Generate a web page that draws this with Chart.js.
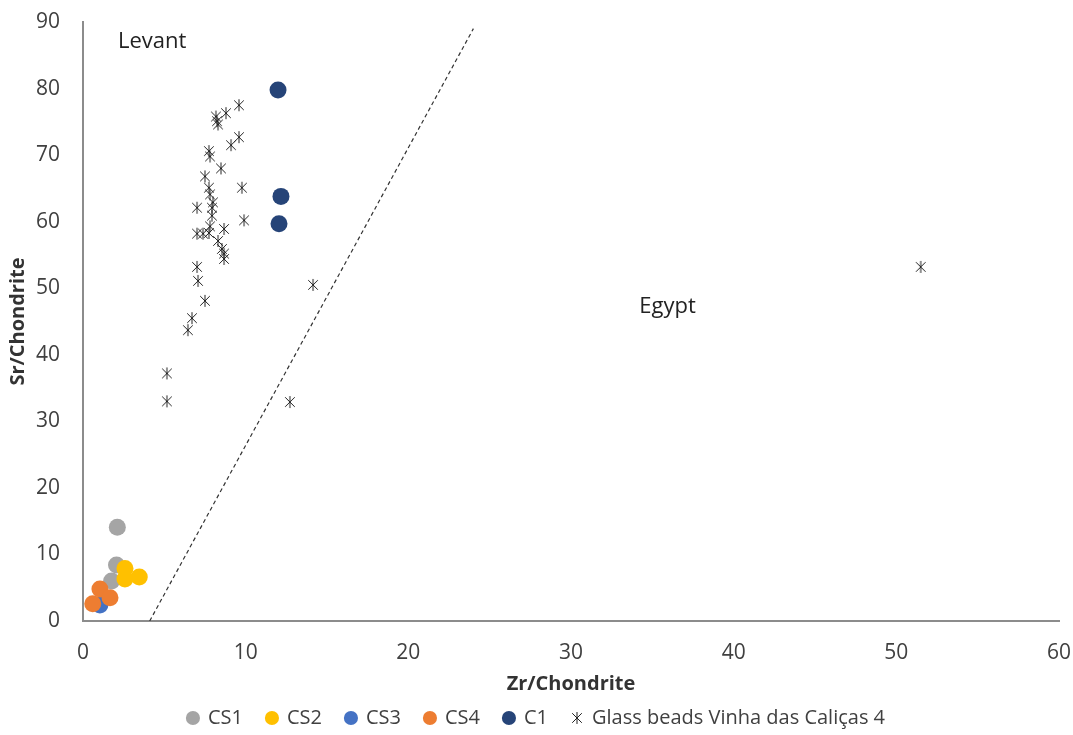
<!DOCTYPE html>
<html>
<head>
<meta charset="utf-8">
<script src="https://cdn.jsdelivr.net/npm/chart.js@4.4.0/dist/chart.umd.min.js"></script>
<style>
  html, body { margin: 0; padding: 0; background: #fff; }
  #wrap { width: 1073px; height: 735px; position: relative; }
</style>
</head>
<body>
<div id="wrap"><canvas id="chart"></canvas></div>
<script>
// --- data (Zr/Chondrite, Sr/Chondrite) ---
const cs1X = [2.11, 2.06, 1.76];
const cs1Y = [14.1, 8.4, 6.0];
const cs2X = [2.58, 2.58, 3.46];
const cs2Y = [7.9, 6.3, 6.6];
const cs3X = [1.04];
const cs3Y = [2.4];
const cs4X = [1.04, 1.66, 0.6];
const cs4Y = [4.8, 3.5, 2.6];
const c1X = [11.99, 12.17, 12.05];
const c1Y = [79.8, 63.8, 59.7];
const beadsX = [9.59, 8.79, 8.17, 8.24, 8.30, 9.59, 9.10, 7.74, 7.81, 8.48, 7.50, 7.74, 9.77, 7.81,
  7.01, 7.93, 7.99, 7.93, 9.90, 7.81, 8.67, 7.01, 7.38, 7.74, 8.30, 8.54, 8.67, 8.67, 7.01, 7.07,
  7.50, 6.70, 6.45, 5.16, 5.16, 14.14, 12.72, 51.5];
const beadsY = [77.5, 76.3, 75.8, 75.1, 74.6, 72.7, 71.5, 70.6, 69.8, 68.0, 66.8, 65.1, 65.1, 64.1,
  62.1, 62.1, 62.9, 60.9, 60.2, 59.3, 58.9, 58.2, 58.2, 58.3, 57.1, 55.9, 55.2, 54.4, 53.2, 51.1,
  48.1, 45.5, 43.7, 37.2, 33.0, 50.5, 32.9, 53.2];
// dividing line Levant / Egypt
const divX = [4.1, 24.0];
const divY = [0, 89];
const regionLabels = ["Levant", "Egypt"];
const regionX = [2.15, 34.2];
const regionY = [87.1, 47.2];

const pts = (xs, ys) => xs.map((x, i) => ({ x: x, y: ys[i] }));
const FONT = '"Open Sans", "Noto Sans", sans-serif';

// Excel-like star marker: X with a vertical bar
function starMarker(size) {
    const c = document.createElement('canvas');
    c.width = size; c.height = size;
    const g = c.getContext('2d');
    g.strokeStyle = '#222'; g.lineWidth = 1;
    const m = size / 2, r = size / 2 - 1;
    g.beginPath();
    g.moveTo(m - r * 0.8, m - r * 0.8); g.lineTo(m + r * 0.8, m + r * 0.8);
    g.moveTo(m + r * 0.8, m - r * 0.8); g.lineTo(m - r * 0.8, m + r * 0.8);
    g.moveTo(m, m - r); g.lineTo(m, m + r);
    g.stroke();
    return c;
}
const star = starMarker(14);

const regionText = {
    id: 'regionText',
    afterDatasetsDraw(chart) {
        const { ctx, scales } = chart;
        ctx.save();
        ctx.font = '22px ' + FONT;
        ctx.fillStyle = '#222';
        ctx.textAlign = 'left'; ctx.textBaseline = 'middle';
        regionLabels.forEach((t, i) => ctx.fillText(t, scales.x.getPixelForValue(regionX[i]), scales.y.getPixelForValue(regionY[i])));
        ctx.restore();
    }
};

// fixed legend height; labels.padding stays large for the horizontal gaps
const legendFit = {
    id: 'legendFit',
    afterInit(chart) {
        const lg = chart.legend;
        const fit = lg.fit.bind(lg);
        lg.fit = function () { fit(); this.height = 51; };
    }
};

const circle = (label, xs, ys, color, order) => ({
    label: label, data: pts(xs, ys), order: order,
    backgroundColor: color, borderColor: color, pointStyle: 'circle', pointRadius: 8.5, pointHoverRadius: 8.5, borderWidth: 0
});

new Chart(document.getElementById('chart'), {
    type: 'scatter',
    data: {
        datasets: [
            circle('CS1', cs1X, cs1Y, '#A5A5A5', 7),
            circle('CS2', cs2X, cs2Y, '#FFC000', 6),
            circle('CS3', cs3X, cs3Y, '#4472C4', 5),
            circle('CS4', cs4X, cs4Y, '#ED7D31', 4),
            circle('C1', c1X, c1Y, '#264478', 3),
            { label: 'Glass beads Vinha das Caliças 4', data: pts(beadsX, beadsY), order: 2,
              pointStyle: star, pointRadius: 7, backgroundColor: '#222', borderColor: '#222' },
            { label: 'divider', data: pts(divX, divY), order: 1, showLine: true, pointRadius: 0,
              borderColor: '#333', borderWidth: 1.2, borderDash: [4, 3], fill: false }
        ]
    },
    options: {
        responsive: true, maintainAspectRatio: false, animation: false,
        layout: { padding: 0 },
        plugins: {
            tooltip: { enabled: false },
            legend: {
                position: 'bottom',
                labels: {
                    filter: (item) => item.text !== 'divider',
                    sort: (a, b) => a.datasetIndex - b.datasetIndex,
                    usePointStyle: true, boxWidth: 10, boxHeight: 10, padding: 24,
                    color: '#404040', font: { family: FONT, size: 20 }
                }
            }
        },
        scales: {
            x: {
                type: 'linear', min: 0, max: 60,
                ticks: { stepSize: 10, color: '#404040', font: { family: FONT, size: 21 }, padding: 11, maxRotation: 0 },
                grid: { display: false }, border: { display: true, color: '#8c8c8c', width: 2 },
                title: { display: true, text: 'Zr/Chondrite', color: '#333', font: { family: FONT, size: 20, weight: 'bold' }, padding: { top: 0, bottom: -12 } },
                afterFit: (s) => { s.height = 63; s.paddingRight = 14; s.paddingLeft = 0; }
            },
            y: {
                type: 'linear', min: 0, max: 90,
                ticks: { stepSize: 10, color: '#404040', font: { family: FONT, size: 21 }, padding: 15 },
                grid: { display: false }, border: { display: true, color: '#8c8c8c', width: 2 },
                title: { display: true, text: 'Sr/Chondrite', color: '#333', font: { family: FONT, size: 20, weight: 'bold' }, padding: 6 },
                afterFit: (s) => { s.width = 83; s.paddingTop = 22; s.paddingBottom = 0; }
            }
        }
    },
    plugins: [regionText, legendFit]
});
</script>
</body>
</html>
